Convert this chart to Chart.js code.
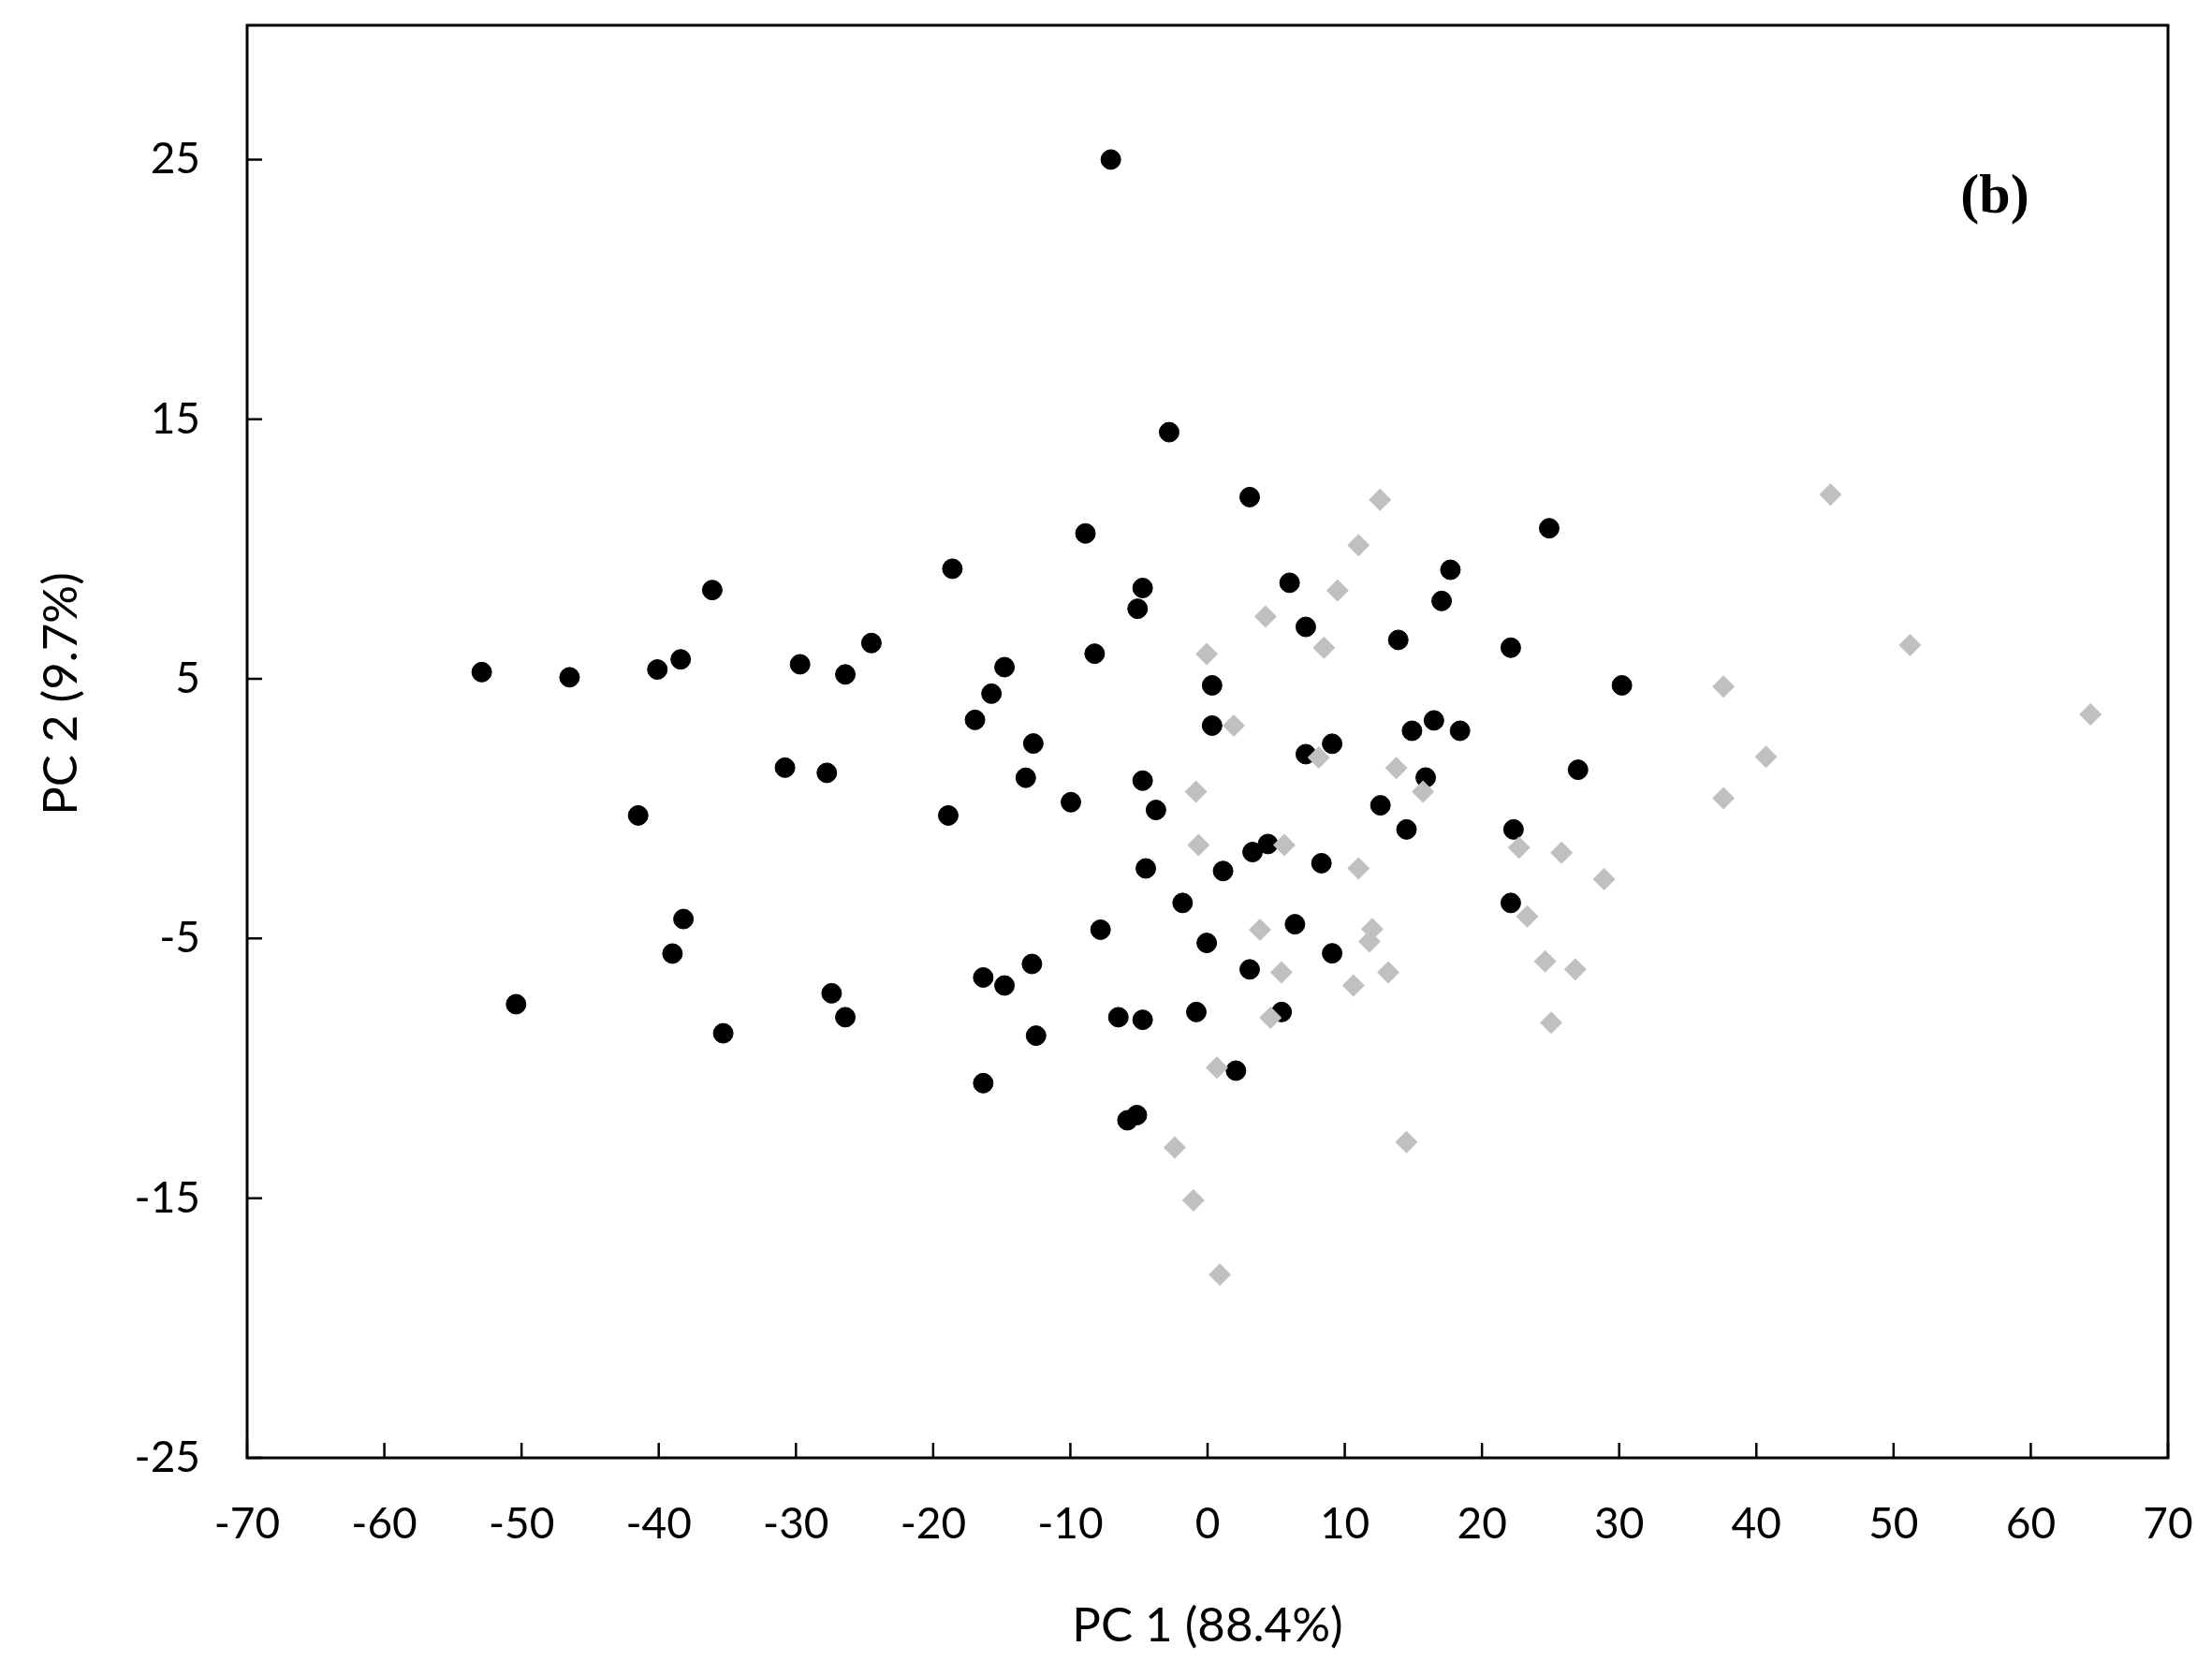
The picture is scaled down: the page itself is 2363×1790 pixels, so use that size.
<!DOCTYPE html>
<html>
<head>
<meta charset="utf-8">
<script src="https://cdn.jsdelivr.net/npm/chart.js@4.4.0/dist/chart.umd.min.js"></script>
<style>
  html, body { margin: 0; padding: 0; background: #fff; }
  #wrap { width: 2363px; height: 1790px; }
</style>
</head>
<body>
<div id="wrap"><canvas id="myChart" width="2363" height="1790"></canvas></div>
<script>
// tick values
const xTicks = [-70, -60, -50, -40, -30, -20, -10, 0, 10, 20, 30, 40, 50, 60, 70];
const yTicks = [-25, -15, -5, 5, 15, 25];

// black circles (PC1, PC2)
const blackPC1 = [
	-7.05, -2.8, 3.07, -8.9, 24.9, -18.6, -36.1, -4.73, -5.1, 5.98,
	17.7, 17.06, 7.16, 13.9, 22.1, -24.5, -8.23, -29.7, -26.4, -38.4,
	-40.1, -46.5, -52.9, -14.8, -15.75, -16.95, 0.33, 0.33, 30.2, 14.9,
	16.5, 18.4, 9.08, 7.16, -12.7, -30.8, -27.75, -13.25, -4.73, 15.9,
	27.0, -9.96, -3.76, 12.6, -41.5, -18.9, 22.3, 14.5, 4.4, 3.28,
	8.3, -4.5, 1.13, -1.82, 22.1, -38.2, -7.8, 6.37, -0.06, -39.0,
	9.08, -12.8, 3.07, -16.35, -14.8, -27.4, -50.4, -26.4, -6.5, -4.73,
	-0.82, 5.4, -35.3, -12.5, -16.35, 2.07, -5.84, -5.15
];
const blackPC2 = [
	25.0, 14.5, 12.0, 10.6, 10.8, 9.24, 8.42, 8.5, 7.7, 8.7,
	9.2, 8.0, 7.0, 6.5, 6.2, 6.38, 5.97, 5.56, 5.17, 5.75,
	5.36, 5.06, 5.26, 5.45, 4.43, 3.42, 4.75, 3.2, 4.75, 3.0,
	3.4, 3.0, 2.5, 2.1, 2.51, 1.58, 1.38, 1.19, 1.08, 1.2,
	1.5, 0.25, -0.05, 0.13, -0.26, -0.26, -0.8, -0.8, -1.36, -1.67,
	-2.1, -2.3, -2.4, -3.63, -3.63, -4.25, -4.66, -4.45, -5.17, -5.58,
	-5.57, -5.98, -6.19, -6.5, -6.81, -7.11, -7.53, -8.03, -8.03, -8.13,
	-7.83, -7.83, -8.65, -8.74, -10.57, -10.09, -12.0, -11.8
];

// grey diamonds (PC1, PC2)
const greyPC1 = [
	12.57, 45.4, 11.0, 9.47, 4.22, 8.48, -0.06, 51.2, 37.6, 64.35,
	1.91, 8.1, 13.75, 40.7, 15.7, -0.85, 37.6, -0.66, 5.59, 22.7,
	25.8, 11.0, 28.9, 23.3, 3.82, 12.0, 11.8, 24.6, 26.8, 5.38,
	13.17, 10.63, 4.59, 25.04, 0.68, -2.4, 14.5, -1.03, 0.89
];
const greyPC2 = [
	11.9, 12.1, 10.15, 8.4, 7.4, 6.2, 5.96, 6.3, 4.7, 3.63,
	3.2, 1.97, 1.57, 2.0, 0.66, 0.66, 0.4, -1.4, -1.4, -1.5,
	-1.7, -2.3, -2.72, -4.15, -4.66, -4.64, -5.11, -5.88, -6.19, -6.3,
	-6.3, -6.81, -8.05, -8.24, -9.97, -13.05, -12.84, -15.08, -17.94
];

const xTitle = 'PC 1 (88.4%)';
const yTitle = 'PC 2 (9.7%)';
const panelLabel = '(b)';

const tickFont = { family: 'Lato', size: 46 };

const toPoints = (xs, ys) => xs.map((x, i) => ({ x: x, y: ys[i] }));

// box around the plot, inward tick marks, axis titles and panel label
const framePlugin = {
	id: 'frame',
	afterDraw(chart) {
		const ctx = chart.ctx;
		const area = chart.chartArea;
		const xs = chart.scales.x;
		const ys = chart.scales.y;
		ctx.save();
		ctx.strokeStyle = '#000';
		ctx.lineWidth = 2.5;
		ctx.beginPath();
		for (let v of xTicks) {
			const px = xs.getPixelForValue(v);
			ctx.moveTo(px, area.bottom);
			ctx.lineTo(px, area.bottom - 16);
		}
		for (let v of yTicks) {
			const py = ys.getPixelForValue(v);
			ctx.moveTo(area.left, py);
			ctx.lineTo(area.left + 16, py);
		}
		ctx.stroke();
		ctx.lineWidth = 3;
		ctx.strokeRect(area.left, area.top, area.right - area.left, area.bottom - area.top);

		ctx.fillStyle = '#000';
		ctx.textAlign = 'center';
		ctx.textBaseline = 'middle';
		ctx.font = '51px Lato';
		ctx.fillText(xTitle, (area.left + area.right) / 2, 1737);
		ctx.save();
		ctx.translate(66, 741);
		ctx.rotate(-Math.PI / 2);
		ctx.fillText(yTitle, 0, 0);
		ctx.restore();

		ctx.font = 'bold 60px "Liberation Serif"';
		ctx.fillText(panelLabel, 2131, 211);
		ctx.restore();
	},
};

const ctx = document.getElementById('myChart').getContext('2d');

const config = {
	type: 'scatter',
	data: {
		datasets: [
			{
				label: 'grey',
				data: toPoints(greyPC1, greyPC2),
				pointStyle: 'rectRot',
				pointRadius: 12,
				backgroundColor: '#c0c0c0',
				borderColor: '#c0c0c0',
				borderWidth: 0,
				order: 0,
			},
			{
				label: 'black',
				data: toPoints(blackPC1, blackPC2),
				pointStyle: 'circle',
				pointRadius: 10.5,
				backgroundColor: '#000',
				borderColor: '#000',
				borderWidth: 1,
				order: 1,
			},
		],
	},
	options: {
		responsive: false,
		animation: false,
		layout: { padding: { left: 0, top: 27, right: 47, bottom: 0 } },
		plugins: {
			legend: { display: false },
			tooltip: { enabled: false },
		},
		scales: {
			x: {
				type: 'linear',
				min: -70,
				max: 70,
				afterBuildTicks: (axis) => {
					axis.ticks = xTicks.map((v) => ({ value: v }));
				},
				afterFit: (axis) => {
					axis.height = 233;
					axis.paddingLeft = 0;
					axis.paddingRight = 0;
				},
				grid: { display: false, drawTicks: false },
				border: { display: false },
				ticks: { font: tickFont, color: '#000', padding: 44, maxRotation: 0 },
			},
			y: {
				type: 'linear',
				min: -25,
				max: 30.17,
				afterBuildTicks: (axis) => {
					axis.ticks = yTicks.map((v) => ({ value: v }));
				},
				afterFit: (axis) => {
					axis.width = 264;
					axis.paddingTop = 0;
					axis.paddingBottom = 0;
				},
				grid: { display: false, drawTicks: false },
				border: { display: false },
				ticks: { font: tickFont, color: '#000', padding: 50 },
			},
		},
	},
	plugins: [framePlugin],
};

const myChart = new Chart(ctx, config);
</script>
</body>
</html>
